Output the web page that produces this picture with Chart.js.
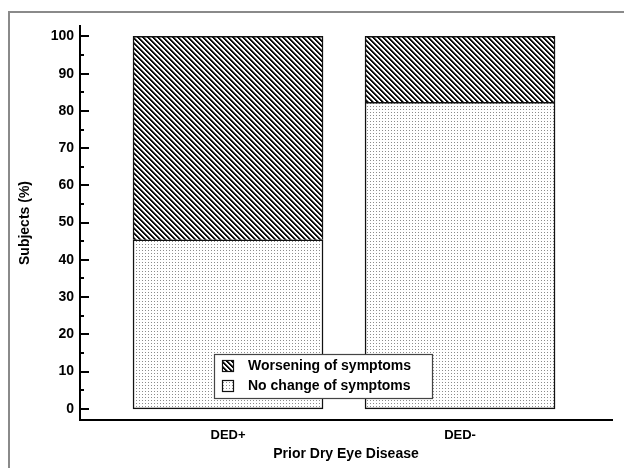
<!DOCTYPE html>
<html><head><meta charset="utf-8">
<script src="https://cdn.jsdelivr.net/npm/chart.js@4/dist/chart.umd.min.js"></script>
<style>html,body{margin:0;padding:0;background:#fff}#wrap{width:624px;height:468px;position:relative}</style>
</head><body><div id="wrap"><canvas id="c" width="624" height="468"></canvas></div>
<script>
const categories = ["DED+", "DED-"];
const noChange = [45.4, 82.3];
const worsening = [54.6, 17.7];
const yTicks = [0,10,20,30,40,50,60,70,80,90,100];
const seriesNames = ["No change of symptoms", "Worsening of symptoms"];

function makePattern(kind){
  const s = kind==='hatch'?5:3;
  const c = document.createElement('canvas'); c.width=s; c.height=s;
  const g = c.getContext('2d'); const im = g.createImageData(s,s);
  for(let y=0;y<s;y++)for(let x=0;x<s;x++){
    let v=255;
    if(kind==='hatch'){ const m=((x-y)%s+s)%s; v = m<2?10:(m===2?130:255); }
    else { if(x===1&&y===1) v=140; }
    const i=(y*s+x)*4; im.data[i]=im.data[i+1]=im.data[i+2]=v; im.data[i+3]=255;
  }
  g.putImageData(im,0,0);
  return document.getElementById('c').getContext('2d').createPattern(c,'repeat');
}
const hatch = makePattern('hatch'), dots = makePattern('dots');
const FAM = "'Liberation Sans', Arial, sans-serif";
const tickFont = {family:FAM, weight:'bold', size:14};
const titleFont = {family:FAM, weight:'bold', size:14};

const decor = {
  id:'decor',
  beforeDraw(ch){
    const g=ch.ctx; g.save(); g.strokeStyle='#8a8a8a'; g.lineWidth=2;
    g.beginPath(); g.moveTo(9,470); g.lineTo(9,12); g.lineTo(624,12); g.stroke(); g.restore();
  },
  afterDraw(ch){
    const g=ch.ctx, y=ch.scales.y, ax=ch.chartArea.left;
    g.save(); g.strokeStyle='#000'; g.lineWidth=2;
    for(let v=0; v<=100; v+=5){
      const p=Math.round(y.getPixelForValue(v));
      g.beginPath(); g.moveTo(ax, p); g.lineTo(ax + (v%10===0?9:4), p); g.stroke();
    }
    // legend
    const lx=214, ly=354, lw=218, lh=44;
    g.fillStyle='#fff'; g.fillRect(lx,ly,lw,lh);
    g.strokeStyle='#444'; g.lineWidth=1.2; g.strokeRect(lx+0.5,ly+0.5,lw,lh);
    const items=[[seriesNames[1],hatch],[seriesNames[0],dots]];
    items.forEach((it,i)=>{
      const sy=ly+6+i*20;
      g.fillStyle=it[1]; g.fillRect(222,sy,11,11);
      g.strokeStyle='#111'; g.lineWidth=1.2; g.strokeRect(222.5,sy+0.5,11,11);
      g.fillStyle='#000'; g.font="bold 14px " + FAM;
      g.textBaseline='middle'; g.textAlign='left';
      g.fillText(it[0], 248, sy+6);
    });
    g.restore();
  }
};

new Chart(document.getElementById('c'), {
  type:'bar',
  data:{ datasets:[
    {label:seriesNames[0], data:categories.map((c,i)=>({x:i,y:noChange[i]})), backgroundColor:dots,
     borderColor:'#111', borderWidth:1.5, borderSkipped:false, barThickness:190},
    {label:seriesNames[1], data:categories.map((c,i)=>({x:i,y:worsening[i]})), backgroundColor:hatch,
     borderColor:'#111', borderWidth:1.5, borderSkipped:'start', barThickness:190}
  ]},
  options:{
    responsive:false, animation:false,
    layout:{padding:{left:0,right:12,top:26,bottom:2}},
    plugins:{legend:{display:false}, tooltip:{enabled:false}},
    scales:{
      x:{ type:'linear', stacked:true, min:-0.638, max:1.655, offset:false,
        afterBuildTicks(s){ s.ticks = categories.map((c,i)=>({value:i})); },
        afterFit(s){ s.height = 46; },
        grid:{display:false, drawTicks:false},
        border:{display:true, color:'#000', width:2},
        ticks:{ padding:8, color:'#000', font:{...tickFont, size:13}, autoSkip:false, maxRotation:0,
          callback:(v)=>categories[v] },
        title:{display:true, text:'Prior Dry Eye Disease', color:'#000', font:titleFont, padding:{top:0,bottom:3}}
      },
      y:{ stacked:true, min:-3, max:102.8,
        afterBuildTicks(s){ s.ticks = yTicks.map(v=>({value:v})); },
        afterFit(s){ s.width = 80; },
        grid:{display:false, drawTicks:false},
        border:{display:true, color:'#000', width:2},
        ticks:{ padding:6, color:'#000', font:tickFont },
        title:{display:true, text:'Subjects (%)', color:'#000', font:titleFont, padding:{top:17,bottom:0}}
      }
    }
  },
  plugins:[decor]
});
</script></body></html>
